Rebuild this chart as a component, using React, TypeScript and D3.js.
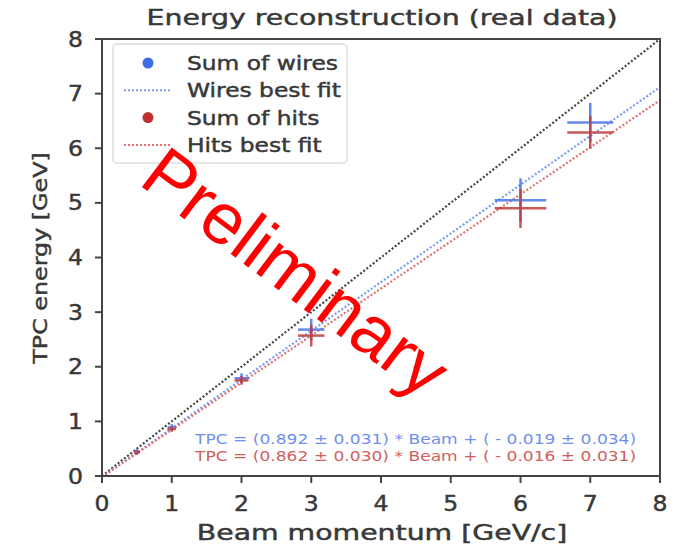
import { ReactNode } from "react";
import { scaleLinear, line as d3Line } from "d3";

const beam = [0.5, 1, 2, 3, 6, 7];
const beamErr = [0.04, 0.06, 0.1, 0.19, 0.37, 0.33];
const wires = [0.45, 0.89, 1.79, 2.68, 5.05, 6.47];
const wiresErr = [0.04, 0.06, 0.09, 0.2, 0.4, 0.36];
const hits = [0.43, 0.86, 1.75, 2.57, 4.9, 6.29];
const hitsErr = [0.04, 0.05, 0.08, 0.2, 0.36, 0.3];

const xTicks = [0, 1, 2, 3, 4, 5, 6, 7, 8];
const yTicks = [0, 1, 2, 3, 4, 5, 6, 7, 8];

const wiresFit = { slope: 0.892, intercept: -0.019 };
const hitsFit = { slope: 0.862, intercept: -0.016 };
const wiresFitLabel = "TPC = (0.892 ± 0.031) * Beam + ( - 0.019 ± 0.034)";
const hitsFitLabel = "TPC = (0.862 ± 0.030) * Beam + ( - 0.016 ± 0.031)";

const legendItems = [
  { label: "Sum of wires", kind: "dot", color: "#3d6ee6" },
  { label: "Wires best fit", kind: "line", color: "#7a9cf2" },
  { label: "Sum of hits", kind: "dot", color: "#c0302f" },
  { label: "Hits best fit", kind: "line", color: "#e07272" },
];

const W = 677;
const H = 546;
const font = "'DejaVu Sans', sans-serif";

// the source picture is stretched sideways, so text gets a horizontal scale
function SText({
  x,
  y,
  sx = 1,
  rotate = 0,
  anchor = "start",
  size,
  fill = "#383838",
  bold = 0.45,
  children,
}: {
  x: number;
  y: number;
  sx?: number;
  rotate?: number;
  anchor?: string;
  size: number;
  fill?: string;
  bold?: number;
  children: ReactNode;
}) {
  return (
    <text
      transform={`translate(${x},${y}) rotate(${rotate}) scale(${sx},1)`}
      textAnchor={anchor}
      fontSize={size}
      fill={fill}
      stroke={bold ? fill : "none"}
      strokeWidth={bold}
    >
      {children}
    </text>
  );
}

export default function App() {
  const x = scaleLinear().domain([0, 8]).range([102, 660]);
  const y = scaleLinear().domain([0, 8]).range([476, 39]);

  const fitLine = (f: { slope: number; intercept: number }) =>
    d3Line<number>()
      .x((d) => x(d))
      .y((d) => y(f.slope * d + f.intercept))([0, 8]) ?? "";
  const diag = d3Line<number>()
    .x((d) => x(d))
    .y((d) => y(d))([0, 8]) ?? "";

  const errorBars = (vals: number[], errs: number[], color: string) =>
    beam.map((b, i) => (
      <g key={i} stroke={color} strokeWidth={2.5} opacity={0.85}>
        <line x1={x(b - beamErr[i])} x2={x(b + beamErr[i])} y1={y(vals[i])} y2={y(vals[i])} />
        <line x1={x(b)} x2={x(b)} y1={y(vals[i] - errs[i])} y2={y(vals[i] + errs[i])} />
      </g>
    ));

  return (
    <svg
      width={W}
      height={H}
      style={{ position: "absolute", left: 0, top: 0, background: "#fff" }}
      fontFamily={font}
    >
      <SText x={382} y={25} sx={1.29} anchor="middle" size={22}>
        Energy reconstruction (real data)
      </SText>

      <defs>
        <clipPath id="plot">
          <rect x={x(0)} y={y(8)} width={x(8) - x(0)} height={y(0) - y(8)} />
        </clipPath>
      </defs>

      <g clipPath="url(#plot)">
        <path d={diag} stroke="#444" strokeWidth={2.2} strokeDasharray="2 2" fill="none" />
        <path d={fitLine(wiresFit)} stroke="#7a9cf2" strokeWidth={2.2} strokeDasharray="2 2" fill="none" />
        <path d={fitLine(hitsFit)} stroke="#e07272" strokeWidth={2.2} strokeDasharray="2 2" fill="none" />
        {errorBars(wires, wiresErr, "#4a76e6")}
        {errorBars(hits, hitsErr, "#c03c3c")}
      </g>

      {/* legend */}
      <rect x={113} y={44} width={234} height={119} rx={4} fill="#fff" fillOpacity={0.8} stroke="#ddd" strokeWidth={1.5} />
      {legendItems.map((it, i) => {
        const cy = 63 + i * 27.3;
        return (
          <g key={it.label}>
            {it.kind === "dot" ? (
              <circle cx={148} cy={cy} r={5.5} fill={it.color} />
            ) : (
              <line x1={124} x2={172} y1={cy} y2={cy} stroke={it.color} strokeWidth={2} strokeDasharray="2 2" />
            )}
            <SText x={187} y={cy + 7} sx={1.23} size={19}>
              {it.label}
            </SText>
          </g>
        );
      })}

      <SText x={195} y={444} sx={1.22} size={14} fill="#6f8ff0" bold={0}>
        {wiresFitLabel}
      </SText>
      <SText x={195} y={461} sx={1.22} size={14} fill="#d06060" bold={0}>
        {hitsFitLabel}
      </SText>

      {/* spines */}
      <rect x={x(0)} y={y(8)} width={x(8) - x(0)} height={y(0) - y(8)} fill="none" stroke="#444" strokeWidth={2} />

      {xTicks.map((t) => (
        <g key={t}>
          <line x1={x(t)} x2={x(t)} y1={y(0)} y2={y(0) + 7} stroke="#444" strokeWidth={2} />
          <SText x={x(t)} y={y(0) + 35} sx={1.12} anchor="middle" size={21}>
            {t}
          </SText>
        </g>
      ))}
      {yTicks.map((t) => (
        <g key={t}>
          <line x1={x(0) - 7} x2={x(0)} y1={y(t)} y2={y(t)} stroke="#444" strokeWidth={2} />
          <SText x={x(0) - 19} y={y(t) + 7.5} sx={1.12} anchor="end" size={21}>
            {t}
          </SText>
        </g>
      ))}

      <SText x={382} y={540} sx={1.35} anchor="middle" size={21}>
        Beam momentum [GeV/c]
      </SText>
      <SText x={47} y={258} sx={1.19} rotate={-90} anchor="middle" size={20}>
        TPC energy [GeV]
      </SText>

      <text
        transform="translate(296,272) rotate(37)"
        textAnchor="middle"
        dominantBaseline="central"
        fontFamily="'Liberation Sans', Arial, sans-serif"
        fontSize={72}
        fill="#ff0000"
      >
        Preliminary
      </text>
    </svg>
  );
}
